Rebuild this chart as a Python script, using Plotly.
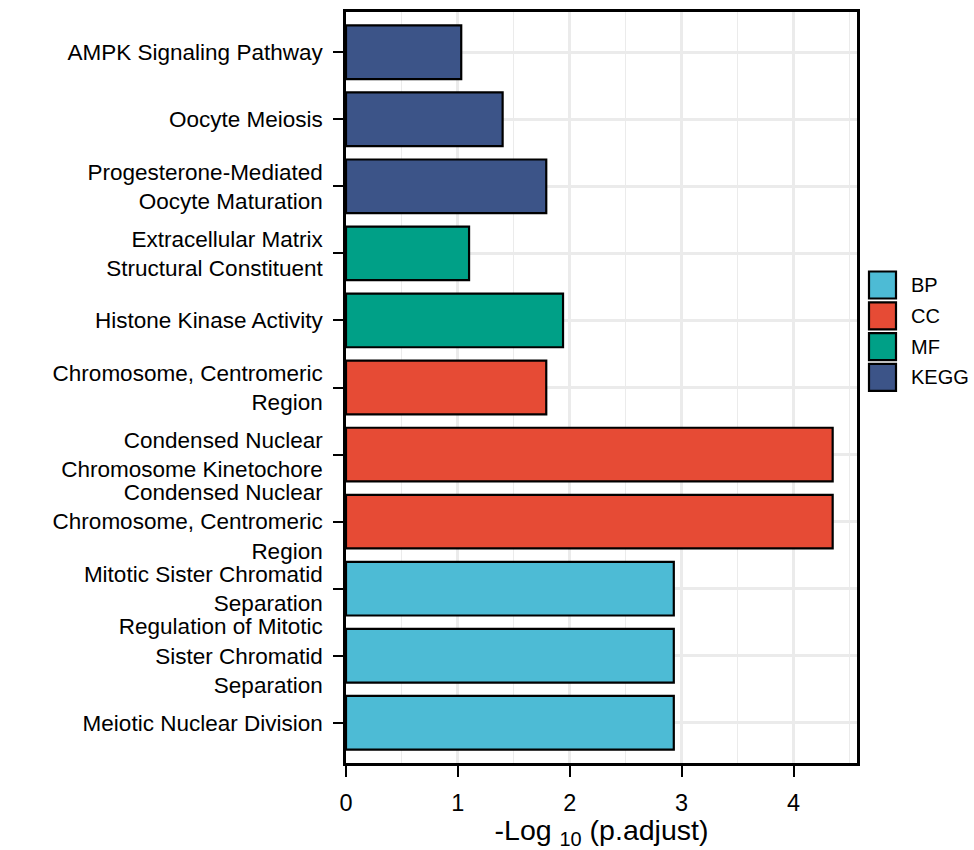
import plotly.graph_objects as go

# ---- data (top to bottom as shown) ----
terms = [
    "AMPK Signaling Pathway",
    "Oocyte Meiosis",
    "Progesterone-Mediated<br>Oocyte Maturation",
    "Extracellular Matrix<br>Structural Constituent",
    "Histone Kinase Activity",
    "Chromosome, Centromeric<br>Region",
    "Condensed Nuclear<br>Chromosome Kinetochore",
    "Condensed Nuclear<br>Chromosome, Centromeric<br>Region",
    "Mitotic Sister Chromatid<br>Separation",
    "Regulation of Mitotic<br>Sister Chromatid<br>Separation",
    "Meiotic Nuclear Division",
]
groups = ["KEGG", "KEGG", "KEGG", "MF", "MF", "CC", "CC", "CC", "BP", "BP", "BP"]
neglog_padj = [1.03, 1.40, 1.79, 1.10, 1.94, 1.79, 4.35, 4.35, 2.93, 2.93, 2.93]

legend_order = ["BP", "CC", "MF", "KEGG"]
colors = {"BP": "#4DBBD5", "CC": "#E64B35", "MF": "#00A087", "KEGG": "#3C5488"}

W, H = 974, 850
L, R, T, B = 346, 117, 12, 87
PW, PH = W - L - R, H - T - B

fig = go.Figure()
for g in legend_order:
    ys = [t for t, gg in zip(terms, groups) if gg == g]
    xs = [v for v, gg in zip(neglog_padj, groups) if gg == g]
    fig.add_trace(go.Bar(
        x=xs, y=ys, orientation="h", name=g, width=0.8,
        marker=dict(color=colors[g], line=dict(color="black", width=2.2)),
        showlegend=False,
    ))

xmax = max(neglog_padj) * 1.05
n = len(terms)

fig.update_layout(
    width=W, height=H,
    margin=dict(l=L, r=R, t=T, b=B, pad=0, autoexpand=False),
    paper_bgcolor="white", plot_bgcolor="white",
    font=dict(family="Liberation Sans, Arial, sans-serif", color="black"),
    bargap=0.2,
)
fig.update_xaxes(
    automargin=False,
    range=[0, xmax], tick0=0, dtick=1,
    showgrid=True, gridcolor="#EBEBEB", gridwidth=2.6,
    minor=dict(dtick=0.5, showgrid=True, gridcolor="#EBEBEB", gridwidth=1.4, ticklen=0),
    showline=True, linecolor="black", linewidth=2.6, mirror=True,
    ticks="outside", ticklen=11, tickwidth=2.4, tickcolor="black",
    tickfont=dict(size=23.5, color="black"),
    ticklabelstandoff=6,
    zeroline=False,
    title=dict(text="-Log <sub>10</sub> (p.adjust)", font=dict(size=28.5, color="black"), standoff=18),
)
fig.update_yaxes(
    automargin=False,
    type="category", categoryorder="array", categoryarray=terms,
    range=[n - 0.4, -0.6],
    showgrid=True, gridcolor="#EBEBEB", gridwidth=2.6,
    showline=True, linecolor="black", linewidth=2.6, mirror=True,
    ticks="outside", ticklen=10, tickwidth=2.4, tickcolor="black",
    tickfont=dict(size=22.5, color="black"),
    ticklabelstandoff=6,
    zeroline=False,
)

# ---- manual legend with large key boxes ----
def px_x(p):
    return (p - L) / PW

def px_y(p):
    return (H - B - p) / PH

shapes = []
annotations = []
for i, g in enumerate(legend_order):
    cy = 285 + i * 30.8
    shapes.append(dict(
        type="rect", xref="paper", yref="paper",
        x0=px_x(869), x1=px_x(896), y0=px_y(cy - 13.5), y1=px_y(cy + 13.5),
        fillcolor=colors[g], line=dict(color="black", width=2.2),
    ))
    annotations.append(dict(
        xref="paper", yref="paper", x=px_x(909), y=px_y(cy),
        text=g, showarrow=False, xanchor="left", yanchor="middle",
        font=dict(size=20, color="black"),
    ))
fig.update_layout(shapes=shapes, annotations=annotations)

fig.write_html("out.html", config={"displayModeBar": False},
               post_script="document.body.style.margin='0px';")
